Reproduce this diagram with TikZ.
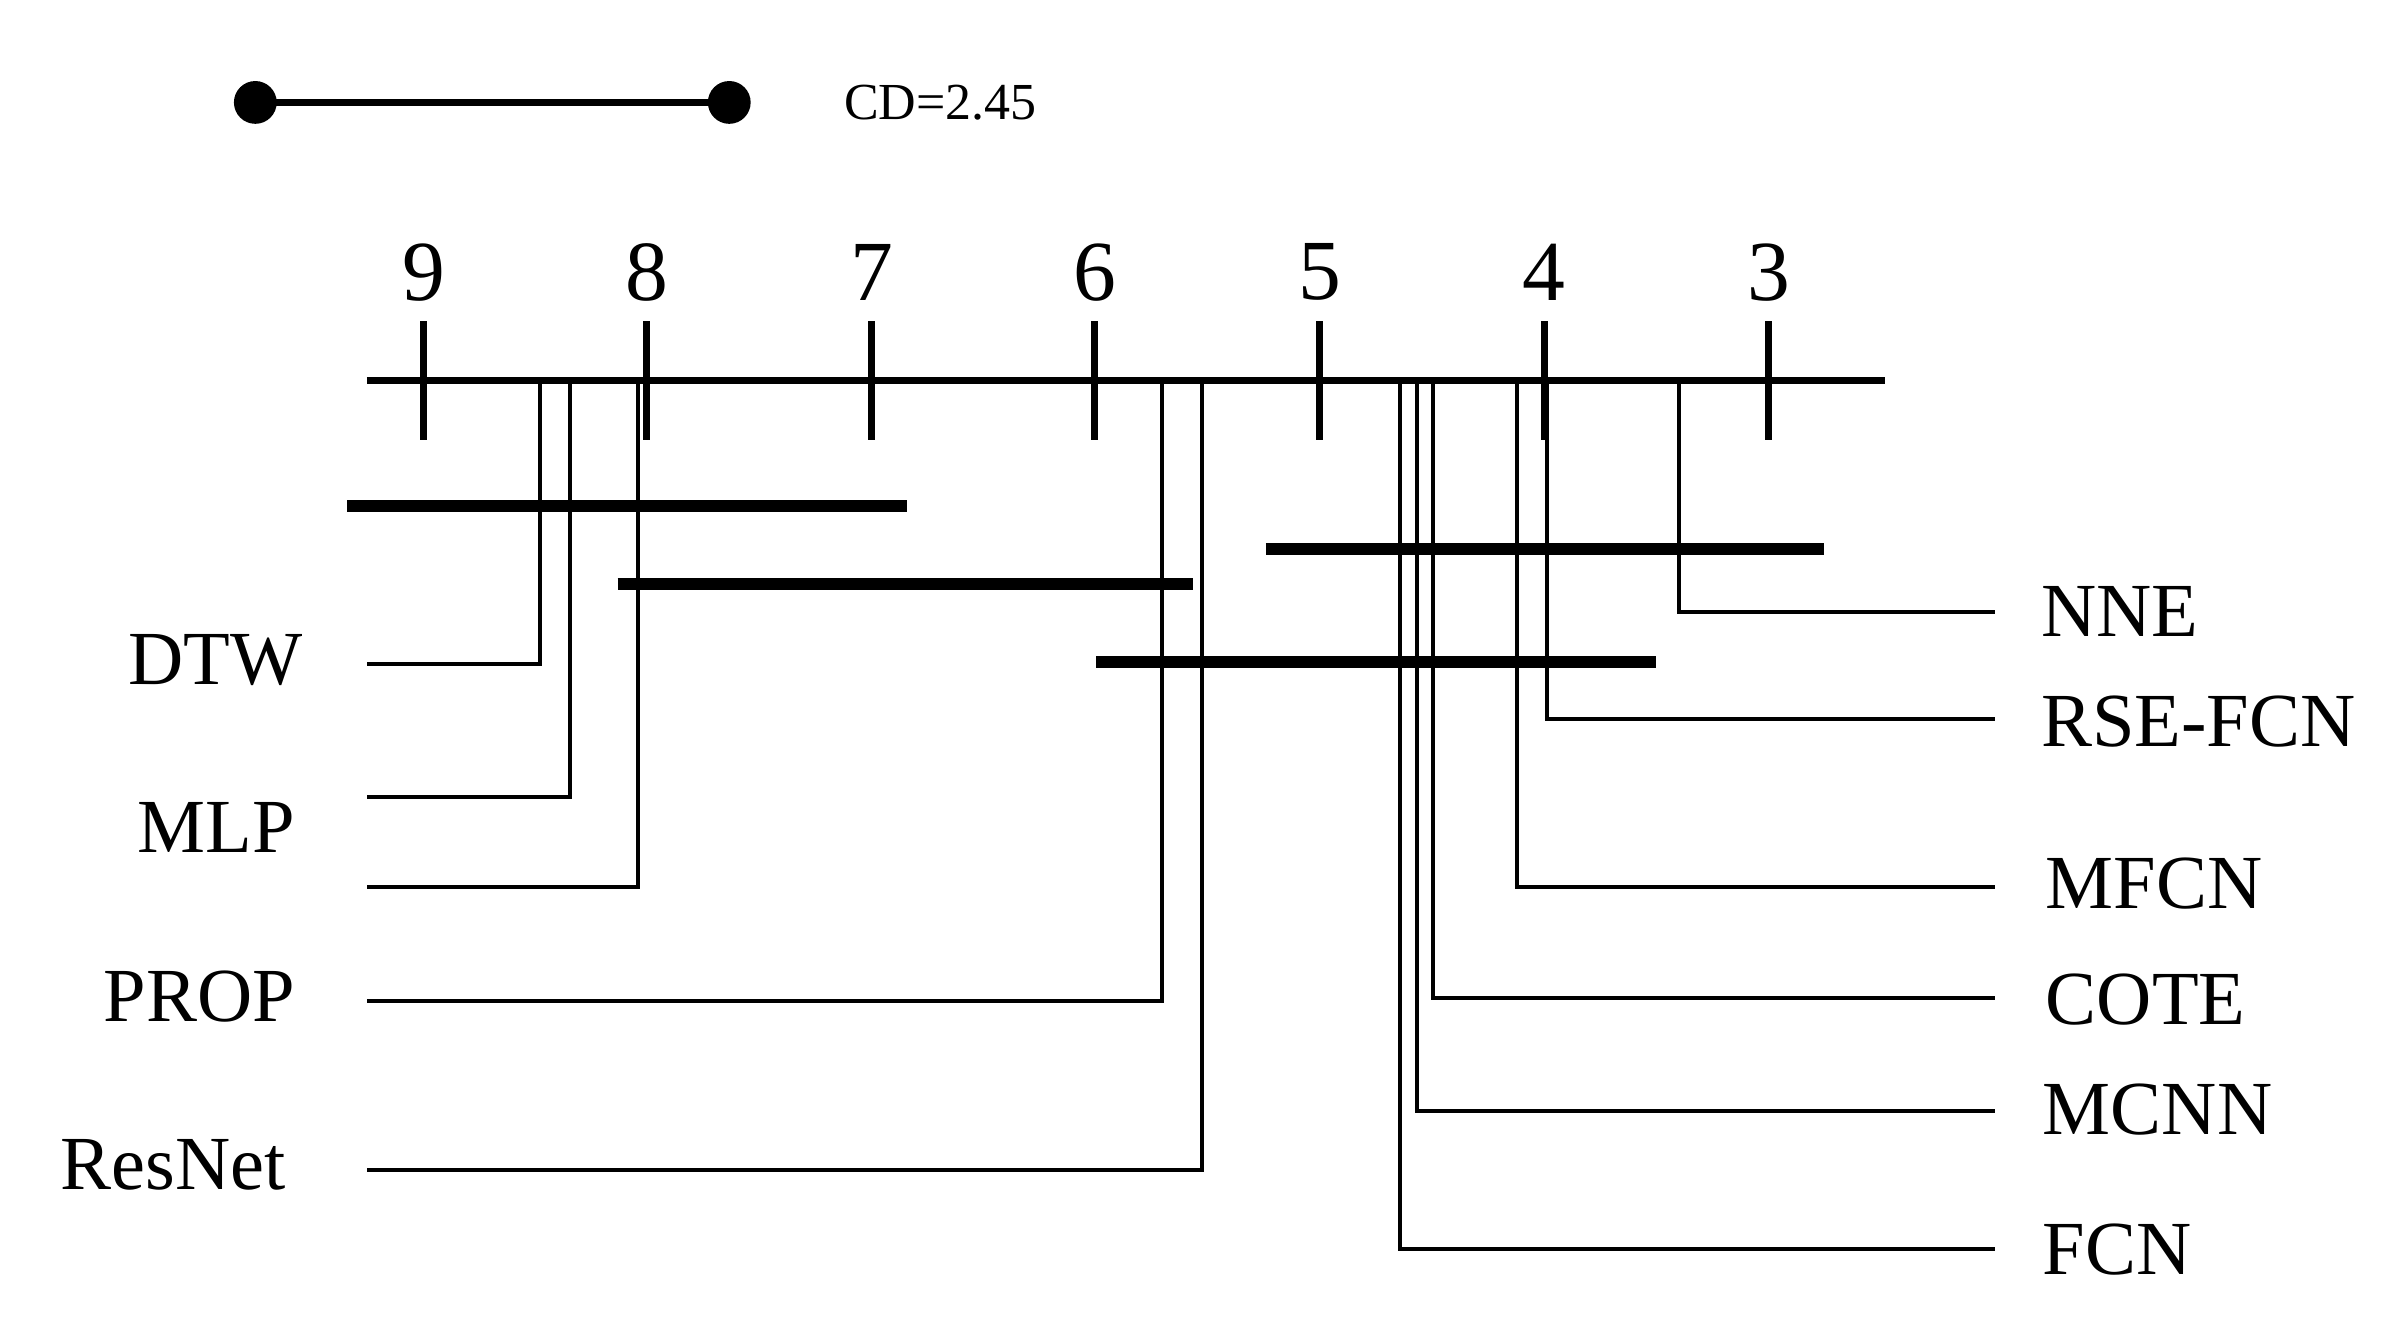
\documentclass[tikz,border=0pt]{standalone}
\usepackage{fontspec}
\setmainfont{Liberation Serif}
\begin{document}
\begin{tikzpicture}[x=1pt,y=-1pt,
  thin line/.style={line width=2.6pt},
  axis line/.style={line width=4.5pt},
  cd bar/.style={line width=8pt},
  lab/.style={font=\fontsize{50}{50}\selectfont, inner sep=0pt},
  num/.style={font=\fontsize{56}{56}\selectfont, inner sep=0pt}]
\useasboundingbox (0,0) rectangle (1560,874);
% CD
\draw[axis line] (167,67) -- (477,67);
\fill (167,67) circle (14); \fill (477,67) circle (14);
\node[font=\fontsize{34}{34}\selectfont, anchor=west, inner sep=0pt] (cd) at (552,67) {CD=2.45};
% axis
\draw[axis line] (240,249) -- (1233,249);
\foreach \v/\x in {9/277,8/423,7/570,6/716,5/863,4/1010,3/1157}{
  \draw[axis line] (\x,210) -- (\x,288);
  \node[num] (t\v) at (\x,178) {\v};
}
% cliques
\draw[cd bar] (227,331) -- (593,331);
\draw[cd bar] (404,382) -- (780,382);
\draw[cd bar] (828,359) -- (1193,359);
\draw[cd bar] (717,433) -- (1083,433);
% left
\foreach \x/\y in {353/434,373/521,417/580,760/655,786/765}
  \draw[thin line] (\x,249) -- (\x,\y) -- (240,\y);
\node[lab,anchor=east] (dtw) at (198,432) {DTW};
\node[lab,anchor=east] (mlp) at (193,541) {MLP};
\node[lab,anchor=east] (prop) at (193,652) {PROP};
\node[lab,anchor=east] (resnet) at (187,762) {ResNet};
% right
\foreach \x/\y in {1098/400,1012/470,992/580,937/653,927/727,916/817}
  \draw[thin line] (\x,249) -- (\x,\y) -- (1305,\y);
\node[lab,anchor=west] (nne) at (1335,400) {NNE};
\node[lab,anchor=west] (rse) at (1335,472) {RSE-FCN};
\node[lab,anchor=west] (mfcn) at (1338,578) {MFCN};
\node[lab,anchor=west] (cote) at (1338,654) {COTE};
\node[lab,anchor=west] (mcnn) at (1336,726) {MCNN};
\node[lab,anchor=west] (fcn) at (1336,817) {FCN};
\end{tikzpicture}
\end{document}
